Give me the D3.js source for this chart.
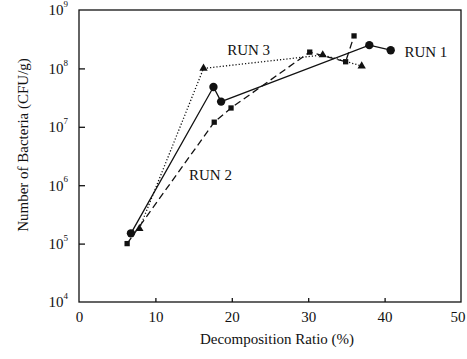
<!DOCTYPE html>
<html>
<head>
<meta charset="utf-8">
<script src="https://cdn.jsdelivr.net/npm/d3@7"></script>
<style>
  body { margin: 0; background: #fff; }
  text { font-family: "Liberation Serif", "DejaVu Serif", serif; fill: #111; }
</style>
</head>
<body>
<script>
// data
const run1X = [6.8, 17.6, 18.6, 38.0, 40.8];
const run1Y = [1.5e5, 4.8e7, 2.7e7, 2.5e8, 2.05e8];

const run2X = [6.3, 17.7, 19.9, 30.2, 34.9, 36.0];
const run2Y = [1.0e5, 1.2e7, 2.1e7, 1.9e8, 1.3e8, 3.6e8];

const run3X = [7.9, 16.3, 31.9, 37.0];
const run3Y = [1.8e5, 1.0e8, 1.7e8, 1.1e8];

const xTicks = [0, 10, 20, 30, 40, 50];
const yExps = [4, 5, 6, 7, 8, 9];

const W = 467, H = 359;
const margin = { top: 10, right: 6, bottom: 57, left: 79 };
const width = W - margin.left - margin.right;
const height = H - margin.top - margin.bottom;

const svg = d3.select("body").append("svg")
  .attr("width", W)
  .attr("height", H);

const g = svg.append("g")
  .attr("transform", `translate(${margin.left},${margin.top})`);

const x = d3.scaleLinear().domain([0, 50]).range([0, width]);
const y = d3.scaleLog().domain([1e4, 1e9]).range([height, 0]);

// frame
g.append("rect")
  .attr("width", width).attr("height", height)
  .attr("fill", "none").attr("stroke", "#111").attr("stroke-width", 1.3);

// x axis, ticks inward
const xaxis = g.append("g")
  .attr("transform", `translate(0,${height})`)
  .call(d3.axisBottom(x).tickValues(xTicks).tickSizeInner(-4).tickSizeOuter(0).tickPadding(9));
xaxis.select(".domain").remove();
xaxis.selectAll("line").attr("stroke", "#111").attr("stroke-width", 1.3);
xaxis.selectAll("text").attr("font-size", 15).attr("font-family", "Liberation Serif").attr("fill", "#111");
xaxis.selectAll(".tick").filter(d => d === 0 || d === 50).select("line").remove();
// last label sits against the right edge
xaxis.selectAll(".tick").filter(d => d === 50).select("text").attr("text-anchor", "end").attr("x", 4);

// y axis, ticks inward, labels as 10^n
const yaxis = g.append("g")
  .call(d3.axisLeft(y).tickValues(yExps.map(e => Math.pow(10, e))).tickSizeInner(-6).tickSizeOuter(0).tickPadding(11).tickFormat(""));
yaxis.select(".domain").remove();
yaxis.selectAll("line").attr("stroke", "#111").attr("stroke-width", 1.3);
yaxis.selectAll(".tick").filter(d => d === 1e4 || d === 1e9).select("line").remove();
yaxis.selectAll(".tick text").each(function (d) {
  const t = d3.select(this)
    .attr("font-size", 15).attr("font-family", "Liberation Serif").attr("fill", "#111")
    .attr("dy", "0.32em");
  t.append("tspan").text("10");
  t.append("tspan").attr("font-size", 9).attr("dy", "-0.9em").text(Math.round(Math.log10(d)));
});

// axis titles
svg.append("text")
  .attr("x", 277)
  .attr("y", 344)
  .attr("text-anchor", "middle")
  .attr("font-size", 15)
  .text("Decomposition Ratio (%)");

svg.append("text")
  .attr("transform", `translate(28,${margin.top + height / 2 - 11}) rotate(-90)`)
  .attr("text-anchor", "middle")
  .attr("font-size", 15)
  .text("Number of Bacteria (CFU/g)");

const runs = [
  { xs: run1X, ys: run1Y, dash: null, sym: d3.symbolCircle, size: 55 },
  { xs: run2X, ys: run2Y, dash: "7,4", sym: d3.symbolSquare, size: 28 },
  { xs: run3X, ys: run3Y, dash: "1.2,2", sym: d3.symbolTriangle, size: 30 }
];

const line = d3.line().x(d => x(d[0])).y(d => y(d[1]));

runs.forEach(r => {
  const pts = r.xs.map((v, i) => [v, r.ys[i]]);
  g.append("path")
    .datum(pts)
    .attr("d", line)
    .attr("fill", "none")
    .attr("stroke", "#111")
    .attr("stroke-width", 1.3)
    .attr("stroke-dasharray", r.dash);
  g.selectAll(null)
    .data(pts)
    .join("path")
    .attr("transform", d => `translate(${x(d[0])},${y(d[1])})`)
    .attr("d", d3.symbol(r.sym, r.size))
    .attr("fill", "#111");
});

// run labels
const labels = [
  { text: "RUN 1", xv: 42.6, yv: 1.9e8 },
  { text: "RUN 2", xv: 14.4, yv: 1.5e6 },
  { text: "RUN 3", xv: 19.4, yv: 2.05e8 }
];
g.selectAll(null)
  .data(labels)
  .join("text")
  .attr("x", d => x(d.xv))
  .attr("y", d => y(d.yv))
  .attr("dy", "0.35em")
  .attr("font-size", 15)
  .text(d => d.text);
</script>
</body>
</html>
